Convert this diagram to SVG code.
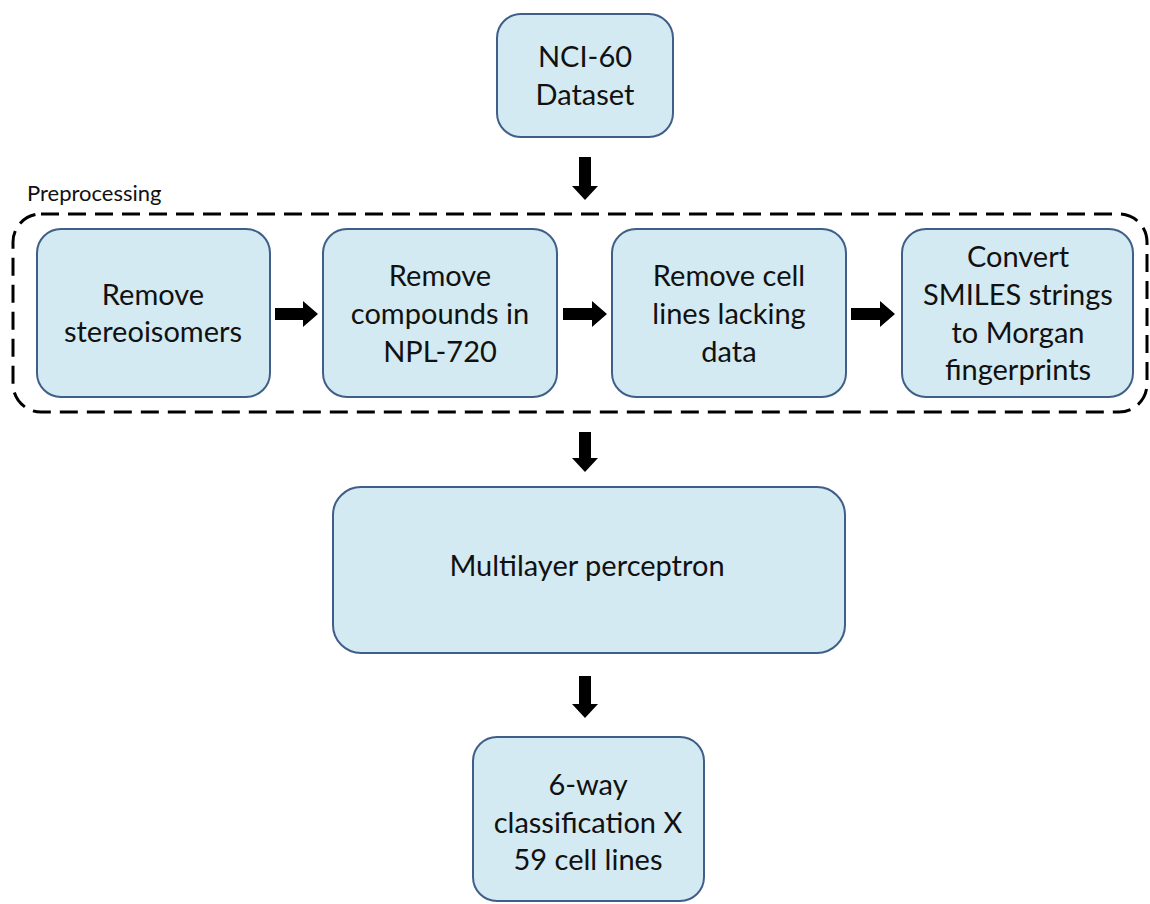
<svg xmlns="http://www.w3.org/2000/svg" width="1150" height="904" viewBox="0 0 1150 904">
<style>
.box{fill:#D3EAF2;stroke:#3F5E88;stroke-width:2}
.t{font-family:Lato,"Open Sans","Liberation Sans",sans-serif;font-size:29px;fill:#111;text-anchor:middle}
.lbl{font-family:Lato,"Open Sans","Liberation Sans",sans-serif;font-size:22px;fill:#111}
.arr{fill:#000}
</style>
<rect width="1150" height="904" fill="#fff"/>
<g id="preprocessing-group">
<rect x="13" y="214" width="1134" height="198" rx="28" fill="none" stroke="#000" stroke-width="3" stroke-dasharray="18,9"/>
<text class="lbl" x="27" y="201">Preprocessing</text>
</g>
<g id="n-nci60">
<rect class="box" x="497" y="14" width="176" height="123" rx="24"/>
<text class="t" x="585" y="67">NCI-60</text>
<text class="t" x="585" y="105">Dataset</text>
</g>
<g id="n-stereo">
<rect class="box" x="37" y="229" width="233" height="168" rx="24"/>
<text class="t" x="153" y="305">Remove</text>
<text class="t" x="153" y="342">stereoisomers</text>
</g>
<g id="n-npl">
<rect class="box" x="323" y="229" width="234" height="168" rx="24"/>
<text class="t" x="440" y="286">Remove</text>
<text class="t" x="440" y="324">compounds in</text>
<text class="t" x="440" y="362">NPL-720</text>
</g>
<g id="n-cell">
<rect class="box" x="612" y="229" width="234" height="168" rx="24"/>
<text class="t" x="729" y="286">Remove cell</text>
<text class="t" x="729" y="324">lines lacking</text>
<text class="t" x="729" y="362">data</text>
</g>
<g id="n-convert">
<rect class="box" x="902" y="229" width="231" height="168" rx="24"/>
<text class="t" x="1018" y="267">Convert</text>
<text class="t" x="1018" y="305">SMILES strings</text>
<text class="t" x="1018" y="343">to Morgan</text>
<text class="t" x="1018" y="380">fingerprints</text>
</g>
<g id="n-mlp">
<rect class="box" x="333" y="487" width="512" height="166" rx="28"/>
<text class="t" x="587" y="576">Multilayer perceptron</text>
</g>
<g id="n-out">
<rect class="box" x="473" y="737" width="231" height="164" rx="24"/>
<text class="t" x="588" y="795">6-way</text>
<text class="t" x="588" y="833">classification X</text>
<text class="t" x="588" y="870">59 cell lines</text>
</g>
<g id="connectors">
<path class="arr" d="M579,157 H591 V186 H598 L585,200 L572,186 H579 Z"/>
<path class="arr" d="M579,432 H591 V458 H598 L585,472 L572,458 H579 Z"/>
<path class="arr" d="M579,676 H591 V704 H598 L585,718 L572,704 H579 Z"/>
<path class="arr" d="M275,308 H303 V301 L318,314 L303,327 V320 H275 Z"/>
<path class="arr" d="M563,308 H592 V301 L607,314 L592,327 V320 H563 Z"/>
<path class="arr" d="M851,308 H880 V301 L895,314 L880,327 V320 H851 Z"/>
</g>
</svg>
